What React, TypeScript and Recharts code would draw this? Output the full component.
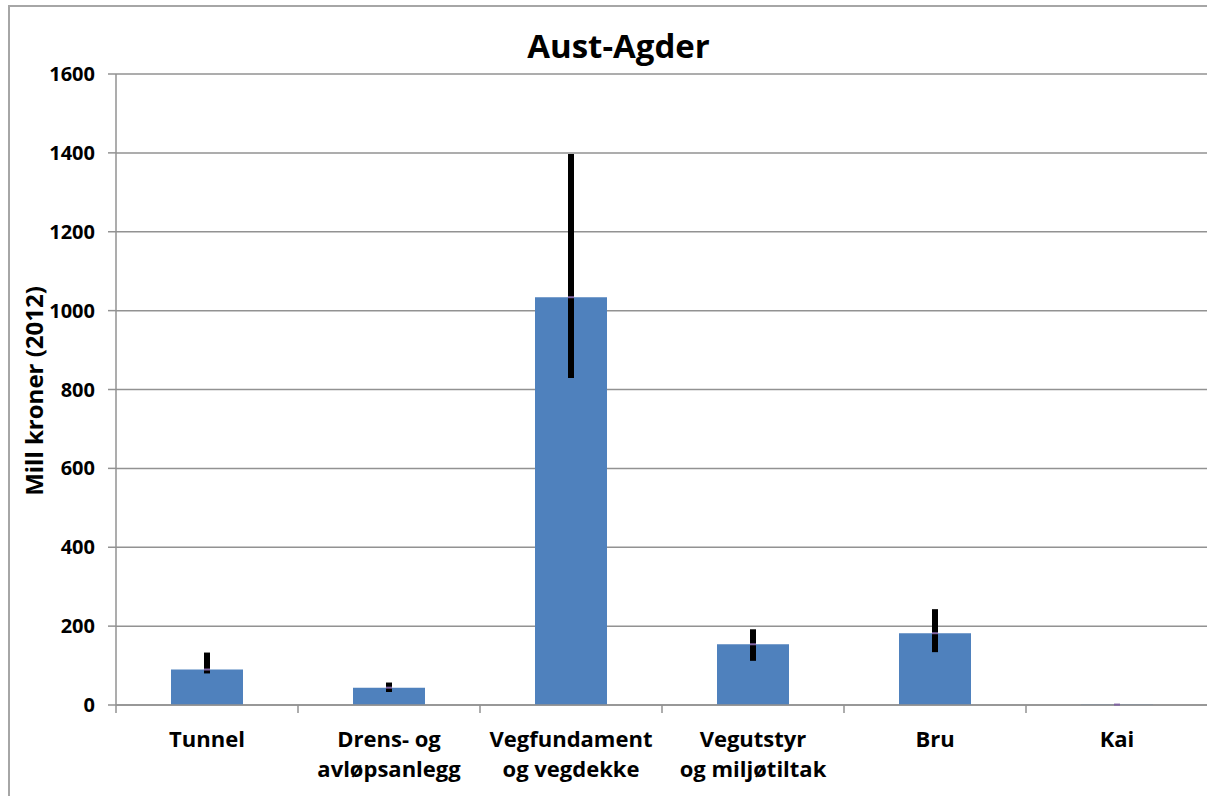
import {
  ComposedChart,
  Bar,
  Line,
  ErrorBar,
  XAxis,
  YAxis,
  CartesianGrid,
} from 'recharts';

const categories = [
  'Tunnel',
  'Drens- og\navløpsanlegg',
  'Vegfundament\nog vegdekke',
  'Vegutstyr\nog miljøtiltak',
  'Bru',
  'Kai',
];
const values = [90, 44, 1034, 154, 182, 1];
const lowValues = [80, 33, 829, 112, 134, 1];
const highValues = [133, 57, 1397, 192, 243, 1];
const yTicks = [0, 200, 400, 600, 800, 1000, 1200, 1400, 1600];

const data = categories.map((name, i) => ({
  name,
  value: values[i],
  err: [values[i] - lowValues[i], highValues[i] - values[i]],
}));

const FONT = '"Open Sans", sans-serif';
const GRID = '#929292';

function XTick(props: any) {
  const { x, y, payload, index, width } = props;
  const half = payload?.offset ?? width / categories.length / 2;
  const lines = String(payload.value).split('\n');
  return (
    <g>
      {index === 0 && (
        <line x1={x - half} x2={x - half} y1={y} y2={y + 8} stroke={GRID} strokeWidth={1.5} />
      )}
      <line x1={x + half} x2={x + half} y1={y} y2={y + 8} stroke={GRID} strokeWidth={1.5} />
      <text
        x={x}
        y={y + 42}
        textAnchor="middle"
        fontFamily={FONT}
        fontWeight={700}
        fontSize={22}
        fill="#000"
      >
        {lines.map((l, i) => (
          <tspan key={i} x={x} dy={i === 0 ? 0 : 30}>
            {l}
          </tspan>
        ))}
      </text>
    </g>
  );
}

function Marker(props: any) {
  const { cx, cy } = props;
  if (cx == null || cy == null) return <g />;
  return <rect x={cx - 3} y={cy - 1} width={6} height={2} fill="#8064A2" />;
}

export default function App() {
  return (
    <div
      style={{
        position: 'fixed',
        left: 0,
        top: 0,
        width: 1207,
        height: 796,
        overflow: 'hidden',
        fontFamily: FONT,
        background: '#fff',
      }}
    >
      <div
        style={{
          position: 'absolute',
          left: 8,
          top: 5,
          width: 1260,
          height: 900,
          border: '2px solid #a6a6a6',
          boxSizing: 'border-box',
        }}
      />
      <div
        style={{
          position: 'absolute',
          left: 8,
          width: 1221,
          top: 28,
          textAlign: 'center',
          fontSize: 33,
          fontWeight: 700,
          lineHeight: '36px',
        }}
      >
        Aust-Agder
      </div>
      <div
        style={{
          position: 'absolute',
          left: 33,
          top: 391,
          transform: 'translate(-50%, -50%) rotate(-90deg)',
          fontSize: 24,
          fontWeight: 700,
          whiteSpace: 'nowrap',
        }}
      >
        Mill kroner (2012)
      </div>
      <div style={{ position: 'absolute', left: 8, top: 8, width: 1200, height: 777 }}>
        <ComposedChart
          width={1200}
          height={777}
          data={data}
          margin={{ top: 66, right: 0, bottom: 0, left: 48 }}
          barSize={72}
          style={{ overflow: 'visible' }}
        >
          <CartesianGrid vertical={false} stroke={GRID} strokeWidth={1.5} />
          <XAxis
            dataKey="name"
            height={80}
            tick={<XTick />}
            tickLine={false}
            tickSize={0}
            tickMargin={0}
            interval={0}
            axisLine={{ stroke: GRID, strokeWidth: 1.5 }}
          />
          <YAxis
            width={60}
            domain={[0, 1600]}
            ticks={yTicks}
            interval={0}
            tickSize={8}
            tickMargin={13}
            tick={{ fontFamily: FONT, fontWeight: 700, fontSize: 20, fill: '#000' }}
            tickLine={{ stroke: GRID, strokeWidth: 1.5 }}
            axisLine={{ stroke: GRID, strokeWidth: 1.5 }}
          />
          <Bar dataKey="value" fill="#4F81BD" isAnimationActive={false}>
            <ErrorBar dataKey="err" stroke="#000" strokeWidth={6} width={0} />
          </Bar>
          <Line
            dataKey="value"
            stroke="none"
            dot={<Marker />}
            activeDot={false}
            isAnimationActive={false}
          />
        </ComposedChart>
      </div>
    </div>
  );
}
